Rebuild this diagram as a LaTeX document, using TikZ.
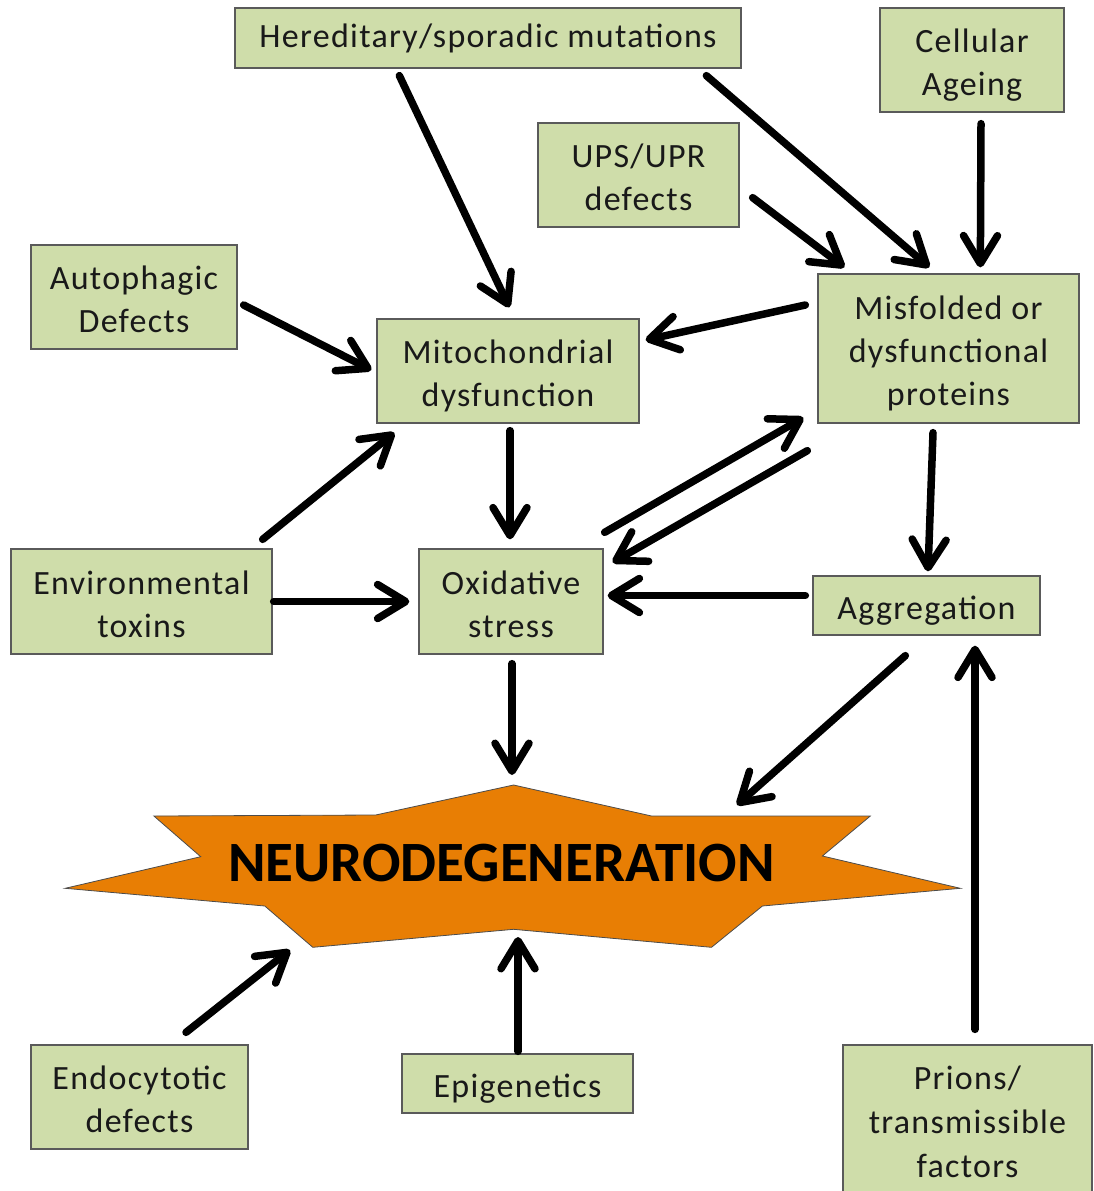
\documentclass[tikz,border=0pt]{standalone}
\usepackage{fontspec}
\setmainfont{Carlito}
\newfontfamily\boxfont{Carlito}[LetterSpace=3.8]
\usetikzlibrary{arrows.meta,calc}
\definecolor{boxfill}{RGB}{207,221,170}
\definecolor{boxline}{RGB}{90,90,90}
\definecolor{neuro}{RGB}{232,126,4}
\newcommand\mytop{\rule{0pt}{37pt}}
\newcommand\mybot{\rule[-9pt]{0pt}{0pt}}
\begin{document}
\begin{tikzpicture}[x=1pt,y=-1pt,
  box/.style={draw=boxline, line width=1.3pt, fill=boxfill, inner sep=0pt, align=center,
    font=\boxfont\fontsize{34}{43}\selectfont, text=black!90},
  arr/.style={line width=7.5pt, line cap=round, -{Straight Barb[round,length=28pt,width=34pt]}}]
\useasboundingbox (0,0) rectangle (1093,1191);
\clip (0,0) rectangle (1093,1191);
% boxes
\node[box, minimum width=506pt, minimum height=60pt] (her) at (488,38) {Hereditary/sporadic mutations};
\node[box, minimum width=184pt, minimum height=104pt] (age) at (972,60) {\mytop Cellular\\Ageing\mybot};
\node[box, minimum width=201pt, minimum height=104pt] (ups) at (638.5,175) {\mytop UPS/UPR\\defects\mybot};
\node[box, minimum width=206pt, minimum height=104pt] (aut) at (134,297) {\mytop Autophagic\\Defects\mybot};
\node[box, minimum width=262pt, minimum height=104pt] (mit) at (508,371) {\mytop Mitochondrial\\dysfunction\mybot};
\node[box, minimum width=261pt, minimum height=149pt] (mis) at (948.5,348.5) {\mytop Misfolded or\\dysfunctional\\proteins\mybot};
\node[box, minimum width=261pt, minimum height=105pt] (env) at (141.5,601.5) {\mytop Environmental\\toxins\mybot};
\node[box, minimum width=184pt, minimum height=105pt] (oxi) at (511,601.5) {\mytop Oxidative\\stress\mybot};
\node[box, minimum width=227pt, minimum height=59pt] (agg) at (926.5,605.5) {\mytop Aggregation\mybot};
\node[box, minimum width=217pt, minimum height=104pt] (end) at (139.5,1097) {\mytop Endocytotic\\defects\mybot};
\node[box, minimum width=231pt, minimum height=59pt] (epi) at (517.5,1083.5) {\mytop Epigenetics\mybot};
\node[box, minimum width=249pt, minimum height=156pt, font=\boxfont\fontsize{34}{44}\selectfont] (pri) at (967.5,1123) {\rule{0pt}{30pt}Prions/\\transmissible\\factors\rule[-10pt]{0pt}{0pt}};
% star
\draw[fill=neuro, draw=black!70, line width=0.8pt] (513.6,785) -- (651.5,816) -- (870.3,816) -- (822.4,856) -- (960.3,888.3) -- (762.4,906) -- (711.5,947.3) -- (513.6,929.3) -- (312.8,947.3) -- (264.8,906) -- (65.2,888.3) -- (200.7,856.7) -- (153.9,816) -- (375.7,815) -- cycle;
\node[font=\bfseries\fontsize{57}{60}\selectfont] (neu) at (501.5,863) {NEURODEGENERATION};
% arrows
\draw[arr] ($(her.south west)+(165,7)$) -- ($(mit.north west)+(133,-11)$);
\draw[arr] ($(her.south west)+(472,7)$) -- ($(mis.north west)+(112,-6)$);
\draw[arr] ($(age.south)+(9,11)$) -- ($(mis.north west)+(163,-6)$);
\draw[arr] ($(ups.south east)+(13,-30)$) -- ($(mis.north west)+(27,-6)$);
\draw[arr] ($(aut.east)+(6,8)$) -- ($(mit.west)+(-5,-1)$);
\draw[arr] ($(mis.west)+(-12,-43.5)$) -- ($(mit.east)+(6,-31)$);
\draw[arr] ($(mit.south)+(2,7)$) -- ($(oxi.north)+(-1,-9)$);
\draw[arr] ($(env.north east)+(-10,-9)$) -- ($(mit.south west)+(18,9)$);
\draw[arr] ($(env.east)+(1,0)$) -- ($(oxi.west)+(-9,0)$);
\draw[arr] ($(oxi.north east)+(1,-16)$) -- ($(mis.south west)+(-14,-6)$);
\draw[arr] ($(mis.south west)+(-10,27)$) -- ($(oxi.north east)+(9,14)$);
\draw[arr] ($(agg.west)+(-7,-10)$) -- ($(oxi.east)+(4,-6)$);
\draw[arr] ($(mis.south)+(-15.5,9)$) -- ($(agg.north)+(1.5,-4)$);
\draw[arr] ($(oxi.south)+(1,9)$) -- ($(neu.center)+(10.5,-88)$);
\draw[arr] ($(agg.south west)+(93,20)$) -- ($(neu.center)+(235.5,-58)$);
\draw[arr] ($(pri.north)+(7.5,-15)$) -- ($(agg.south)+(48.5,10)$);
\draw[arr] ($(end.north)+(46.5,-12)$) -- ($(neu.center)+(-211.5,87)$);
\draw[arr] ($(epi.north)+(0.5,-2)$) -- ($(neu.center)+(16.5,74)$);
\end{tikzpicture}
\end{document}
